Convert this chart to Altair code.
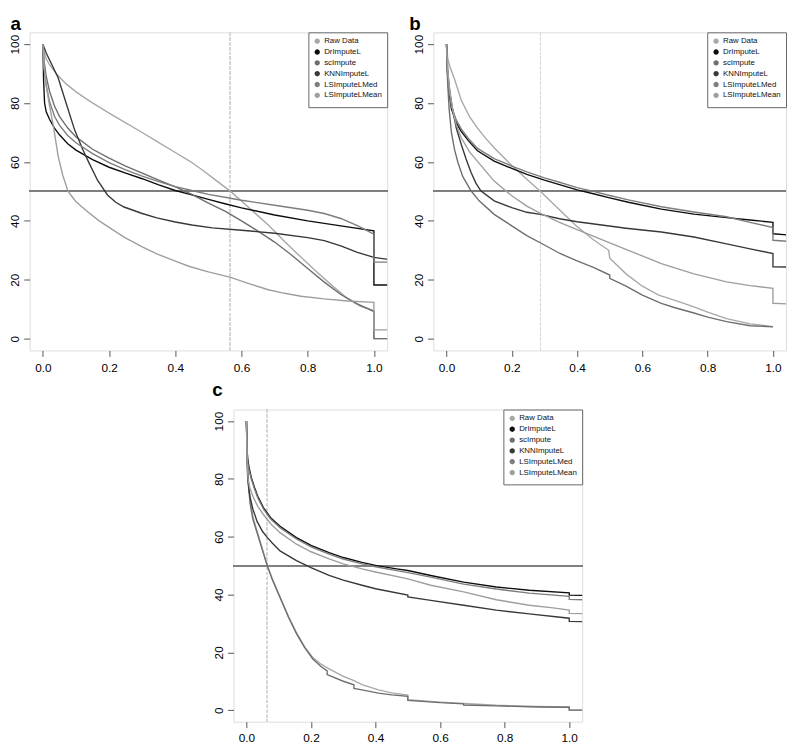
import altair as alt
import pandas as pd

SERIES = ["Raw Data", "DrImputeL", "scImpute", "KNNImputeL", "LSImputeLMed", "LSImputeLMean"]
LINE_COLORS = ["#a8a8a8", "#0d0d0d", "#6e6e6e", "#383838", "#7d7d7d", "#9e9e9e"]
X_TICKS = [0.0, 0.2, 0.4, 0.6, 0.8, 1.0]
Y_TICKS = [0, 20, 40, 60, 80, 100]
REF_LEVEL = 50

# ---------------- panel a ----------------
A_RAW = [(0, 100), (0.003, 97.5), (0.01, 95), (0.02, 93), (0.04, 90), (0.07, 86.5), (0.1, 83.8), (0.146, 80.3),
         (0.2, 76.6), (0.245, 73.6), (0.3, 70), (0.344, 67), (0.4, 63.2), (0.443, 60.3), (0.483, 57.2), (0.52, 54),
         (0.567, 50), (0.62, 44.7), (0.681, 38.6), (0.73, 33), (0.78, 27.6), (0.83, 22.4), (0.879, 17.5),
         (0.92, 13.6), (0.96, 11), (1.0, 9.5), (1.0, 0), (1.05, 0)]
A_DR = [(0, 100), (0.002, 88), (0.005, 80), (0.01, 77), (0.02, 74.5), (0.035, 71.5), (0.05, 69.2), (0.075, 66.2),
        (0.1, 64), (0.15, 60.8), (0.2, 58.2), (0.25, 56.2), (0.3, 54.3), (0.35, 52.2), (0.4, 50.3), (0.45, 48.8),
        (0.5, 47.3), (0.55, 45.8), (0.6, 44.4), (0.7, 42), (0.8, 40), (0.9, 38.3), (1.0, 36.6), (1.0, 18.2),
        (1.05, 18.2)]
A_SC = [(0, 100), (0.004, 94), (0.01, 89), (0.02, 84), (0.035, 79), (0.05, 75.5), (0.075, 71.5), (0.1, 68.5),
        (0.15, 64.3), (0.2, 61.3), (0.25, 58.6), (0.3, 56.2), (0.35, 53.8), (0.4, 51.5), (0.45, 49), (0.5, 46),
        (0.55, 43.3), (0.6, 40), (0.65, 36.5), (0.7, 32.8), (0.75, 28.5), (0.8, 23.8), (0.85, 19.2), (0.9, 15),
        (0.95, 11.8), (1.0, 9.2), (1.0, 0), (1.05, 0)]
A_KNN = [(0, 100), (0.01, 97), (0.025, 93.5), (0.046, 88.6), (0.07, 80), (0.096, 70.8), (0.12, 64.3), (0.14, 59.5),
         (0.165, 53.8), (0.195, 48.8), (0.22, 46.3), (0.245, 44.7), (0.3, 42.5), (0.344, 41), (0.4, 39.6),
         (0.45, 38.6), (0.512, 37.6), (0.6, 36.8), (0.7, 35.8), (0.8, 34.3), (0.85, 33.3), (0.9, 31.5),
         (0.95, 29.3), (1.0, 27.6), (1.05, 26.8)]
A_MED = [(0, 100), (0.003, 92), (0.01, 86), (0.02, 80.5), (0.035, 75.5), (0.05, 72.5), (0.075, 69), (0.1, 66.5),
         (0.15, 62.8), (0.2, 59.8), (0.25, 57.3), (0.3, 55.2), (0.35, 53.3), (0.4, 51.6), (0.45, 50.3), (0.5, 49),
         (0.55, 48), (0.6, 47), (0.7, 45.3), (0.8, 43.6), (0.85, 42.5), (0.9, 40.8), (0.95, 38.4), (1.0, 35.5),
         (1.0, 26), (1.05, 26)]
A_MEAN = [(0, 100), (0.004, 92), (0.01, 86), (0.02, 79), (0.032, 72), (0.046, 62), (0.06, 55.5), (0.076, 50),
          (0.1, 46.5), (0.136, 43), (0.17, 40), (0.2, 37.8), (0.245, 34.5), (0.3, 31.2), (0.344, 28.8), (0.4, 26.3),
          (0.443, 24.5), (0.5, 22.7), (0.567, 20.8), (0.62, 18.8), (0.681, 16.6), (0.73, 15.4), (0.78, 14.4),
          (0.85, 13.5), (0.92, 12.8), (1.0, 12.3), (1.0, 3), (1.05, 3)]
A_CUT = 0.565

# ---------------- panel b ----------------
B_RAW = [(0, 100), (0.004, 95), (0.01, 92.5), (0.025, 88), (0.045, 81), (0.07, 75.5), (0.095, 71.5), (0.12, 68),
         (0.146, 64.8), (0.196, 59.2), (0.246, 54.1), (0.288, 50), (0.346, 43.8), (0.397, 38.3), (0.45, 33.6),
         (0.497, 30), (0.5, 27.3), (0.55, 22), (0.6, 17.8), (0.65, 14.8), (0.7, 13), (0.758, 10.8), (0.8, 9),
         (0.858, 6.8), (0.93, 5), (1.0, 4.1)]
B_DR = [(0, 100), (0.003, 90), (0.007, 84), (0.015, 78), (0.03, 73.3), (0.045, 70.4), (0.07, 66.8), (0.095, 63.8),
        (0.146, 60.3), (0.2, 57.8), (0.246, 55.8), (0.3, 53.8), (0.346, 52.3), (0.4, 50.5), (0.45, 49.2), (0.5, 47.8),
        (0.557, 46.3), (0.658, 44), (0.758, 42.3), (0.858, 41.1), (0.93, 40.3), (1.0, 39.5), (1.0, 35.6),
        (1.05, 35.2)]
B_SC = [(0, 100), (0.003, 88), (0.008, 78), (0.015, 70), (0.025, 64), (0.035, 59.8), (0.05, 55), (0.075, 50.2),
        (0.1, 46.8), (0.146, 42.2), (0.2, 38.3), (0.246, 35), (0.3, 31.8), (0.346, 29), (0.4, 26.4), (0.45, 24.2),
        (0.5, 21.6), (0.5, 20.5), (0.55, 17.8), (0.6, 14.8), (0.658, 12), (0.7, 10.5), (0.758, 8.7), (0.8, 7.3),
        (0.858, 5.8), (0.93, 4.4), (1.0, 4)]
B_KNN = [(0, 100), (0.004, 90), (0.01, 84), (0.02, 77), (0.03, 71.5), (0.045, 66), (0.06, 61), (0.075, 56.5),
         (0.09, 52.8), (0.105, 50.2), (0.146, 46.8), (0.2, 44.5), (0.246, 42.9), (0.288, 42.2), (0.346, 40.7),
         (0.4, 39.7), (0.487, 38.4), (0.55, 37.5), (0.658, 36.2), (0.758, 34.5), (0.858, 32.2), (0.93, 30.5),
         (1.0, 28.9), (1.0, 24.4), (1.05, 24.3)]
B_MED = [(0, 100), (0.003, 91), (0.007, 85), (0.015, 79), (0.03, 74.2), (0.045, 71.2), (0.07, 67.6), (0.095, 64.6),
         (0.146, 61.1), (0.2, 58.6), (0.246, 56.6), (0.3, 54.6), (0.346, 53.1), (0.4, 51.3), (0.45, 50), (0.5, 48.6),
         (0.557, 47.1), (0.658, 44.8), (0.758, 43), (0.858, 41.4), (0.93, 39.5), (1.0, 37.7), (1.0, 33.4),
         (1.05, 33)]
B_MEAN = [(0, 100), (0.004, 91), (0.01, 84), (0.02, 77), (0.03, 72.5), (0.045, 68.2), (0.07, 63.5), (0.095, 60.2),
          (0.146, 53.5), (0.2, 48.5), (0.246, 45), (0.288, 42.5), (0.346, 39.5), (0.4, 37), (0.457, 34.5),
          (0.5, 32.5), (0.557, 30), (0.658, 25.5), (0.758, 22), (0.858, 19.3), (0.93, 18), (1.0, 17.1), (1.0, 12),
          (1.05, 11.8)]
B_CUT = 0.288

# ---------------- panel c ----------------
C_RAW = [(0, 100), (0.002, 90), (0.005, 82), (0.008, 77), (0.012, 72), (0.02, 67), (0.033, 61.9), (0.05, 55.5),
         (0.065, 50), (0.08, 45.5), (0.104, 39.2), (0.13, 32.5), (0.155, 26.8), (0.18, 22), (0.205, 18.3),
         (0.23, 16), (0.256, 14.3), (0.3, 11.7), (0.333, 10.2), (0.358, 8.8), (0.409, 7), (0.45, 6), (0.5, 5.2),
         (0.5, 3.6), (0.6, 2.8), (0.673, 2.3), (0.774, 1.7), (0.9, 1.3), (1.0, 1.1), (1.0, 0), (1.05, 0)]
C_DR = [(0, 100), (0.002, 90), (0.004, 87), (0.008, 84), (0.015, 80.5), (0.025, 77), (0.035, 74), (0.053, 70),
        (0.075, 66.6), (0.104, 63.6), (0.155, 59.7), (0.2, 57), (0.256, 54.5), (0.3, 52.8), (0.358, 51.1),
        (0.4, 50.1), (0.47, 48.8), (0.5, 48.3), (0.571, 46.6), (0.673, 44.3), (0.774, 42.6), (0.876, 41.5),
        (1.0, 40.6), (1.0, 39.8), (1.05, 39.7)]
C_SC = [(0, 100), (0.002, 88), (0.005, 80), (0.008, 75.5), (0.012, 71), (0.02, 66), (0.033, 61.4), (0.05, 55.2),
        (0.065, 49.8), (0.08, 45.2), (0.104, 39), (0.13, 32.2), (0.155, 26.5), (0.18, 21.7), (0.205, 17.8),
        (0.23, 15.2), (0.25, 13.6), (0.25, 12.3), (0.3, 10), (0.333, 8.8), (0.333, 7.5), (0.358, 7), (0.409, 5.9),
        (0.45, 5.3), (0.5, 4.8), (0.5, 3.4), (0.6, 2.6), (0.673, 2.2), (0.673, 1.8), (0.774, 1.5), (0.9, 1.1),
        (1.0, 1.0), (1.0, 0), (1.05, 0)]
C_KNN = [(0, 100), (0.002, 86), (0.004, 80), (0.008, 76), (0.012, 73.3), (0.02, 69.5), (0.033, 65.3), (0.05, 61.8),
         (0.065, 59.7), (0.08, 57.8), (0.104, 55.1), (0.155, 51.7), (0.2, 49.3), (0.256, 46.6), (0.3, 45),
         (0.358, 43.2), (0.4, 42), (0.5, 39.8), (0.5, 39.2), (0.571, 38), (0.673, 36.3), (0.774, 34.6),
         (0.876, 33.3), (1.0, 31.8), (1.0, 30.7), (1.05, 30.6)]
C_MED = [(0, 100), (0.002, 89), (0.004, 86), (0.008, 83), (0.015, 80), (0.025, 76.5), (0.035, 73.5), (0.053, 69.5),
         (0.075, 66.1), (0.104, 63.1), (0.155, 59.2), (0.2, 56.5), (0.256, 54), (0.3, 52.3), (0.358, 50.6),
         (0.4, 49.6), (0.47, 48.2), (0.5, 47.6), (0.571, 46), (0.673, 43.6), (0.774, 41.9), (0.876, 40.5),
         (1.0, 39.4), (1.0, 38.3), (1.05, 38.2)]
C_MEAN = [(0, 100), (0.002, 86), (0.005, 80), (0.01, 77), (0.02, 74), (0.035, 70.5), (0.053, 67.6), (0.075, 64.5),
          (0.104, 61.4), (0.155, 57.4), (0.2, 54.8), (0.256, 52.3), (0.3, 50.6), (0.358, 48.9), (0.4, 47.8),
          (0.5, 45.4), (0.571, 43.2), (0.673, 40.9), (0.774, 38.2), (0.876, 36.3), (0.95, 35.4), (1.0, 34.6),
          (1.0, 33.5), (1.05, 33.4)]
C_CUT = 0.065

FONT = "Liberation Sans"


def panel(label, series_pts, cut, w, h, tx, ty, xpad):
    rows = []
    for name, pts in zip(SERIES, series_pts):
        for i, (x, y) in enumerate(pts):
            rows.append({"series": name, "x": x, "y": y, "i": i})
    df = pd.DataFrame(rows)
    xs = alt.Scale(domain=[-0.04, 1.04], nice=False, zero=False)
    ys = alt.Scale(domain=[-4, 104], nice=False, zero=False)
    xaxis = alt.Axis(values=X_TICKS, format=".1f", tickSize=6, tickColor="#555", domain=False, grid=False,
                     labelFontSize=12, labelColor="#000", labelPadding=xpad, labelFont=FONT, labelFlush=False,
                     labelOverlap=False, title=None)
    yaxis = alt.Axis(values=Y_TICKS, tickSize=6, tickColor="#555", domain=False, grid=False, labelFontSize=12,
                     labelColor="#000", labelPadding=2, labelFont=FONT, labelFlush=False, labelOverlap=False,
                     labelAngle=270, labelAlign="center", labelBaseline="bottom",
                     title=label, titleAngle=0, titleAlign="left", titleBaseline="alphabetic",
                     titleX=tx, titleY=ty, titleFontSize=19, titleFontWeight="bold", titleFont=FONT,
                     titleColor="#000")
    legend = alt.Legend(orient="top-right", offset=0, padding=5, strokeColor="#666", fillColor="white",
                        symbolType="circle", symbolSize=8, symbolStrokeWidth=2.6, labelFontSize=8,
                        labelFont=FONT, labelColor="#111", rowPadding=-8, labelOffset=3, title=None)
    lines = alt.Chart(df).mark_line(strokeWidth=1.4, clip=True).encode(
        x=alt.X("x:Q", scale=xs, axis=xaxis),
        y=alt.Y("y:Q", scale=ys, axis=yaxis),
        color=alt.Color("series:N", scale=alt.Scale(domain=SERIES, range=LINE_COLORS), legend=legend,
                        sort=SERIES),
        order=alt.Order("i:Q"),
    )
    hline = alt.Chart(df).mark_rule(color="#808080", strokeWidth=1).encode(y=alt.datum(REF_LEVEL, scale=ys))
    vline = alt.Chart(df).mark_rule(color="#d6d6d6", strokeWidth=1, strokeDash=[3, 2]).encode(
        x=alt.datum(cut, scale=xs))
    return alt.layer(vline, hline, lines).properties(width=w, height=h)


pa = panel("a", [A_RAW, A_DR, A_SC, A_KNN, A_MED, A_MEAN], A_CUT, 363, 323, -20, -3, 6)
pb = panel("b", [B_RAW, B_DR, B_SC, B_KNN, B_MED, B_MEAN], B_CUT, 358, 323, -25, -3, 6)
pc = panel("c", [C_RAW, C_DR, C_SC, C_KNN, C_MED, C_MEAN], C_CUT, 354, 317, -22, -14, 5)

top = alt.hconcat(pa, pb, spacing=20).resolve_scale(color="independent")
chart = alt.vconcat(top, pc, spacing=6, center=True).resolve_scale(color="independent").properties(
    padding=0
).configure_view(stroke="#555", strokeWidth=1).configure(font=FONT)

chart.save("out.html", embed_options={"renderer": "svg", "actions": False})
